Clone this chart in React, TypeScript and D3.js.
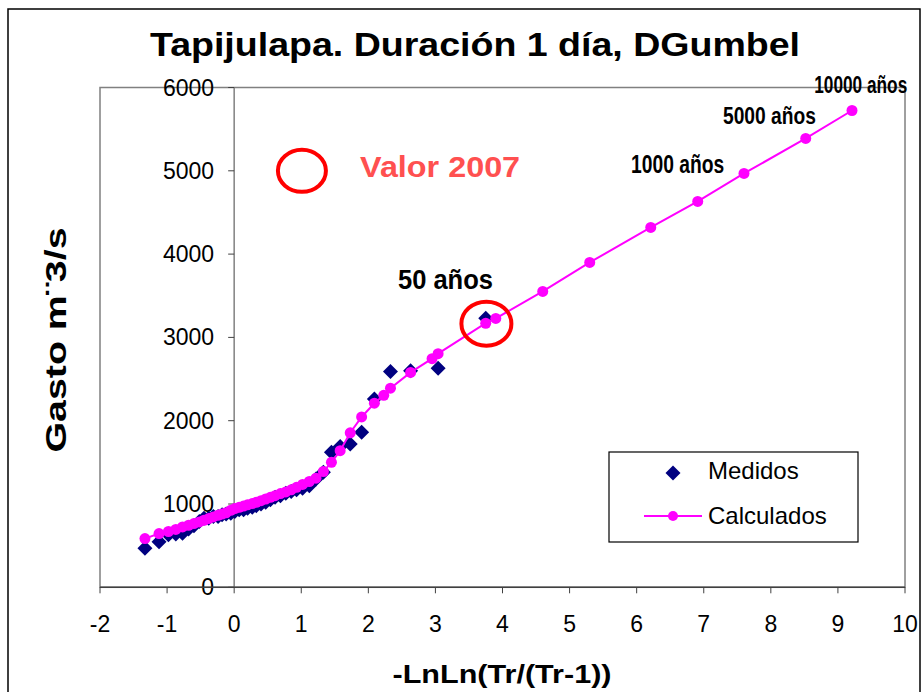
import * as d3 from "d3";

// Medidos: reduced variate vs measured discharge
const medidosX = [
  -1.33, -1.12, -0.98, -0.87, -0.77, -0.68, -0.6, -0.52, -0.45, -0.38, -0.31,
  -0.24, -0.18, -0.12, -0.05, 0.01, 0.075, 0.14, 0.2, 0.27, 0.33, 0.4, 0.47,
  0.54, 0.61, 0.69, 0.77, 0.85, 0.93, 1.02, 1.12, 1.22, 1.33, 1.45, 1.58, 1.73,
  1.9, 2.09, 2.33, 2.63, 3.04, 3.75,
];
const medidosY = [
  468, 548, 630, 640, 650, 700, 740, 790, 830, 830, 850, 850, 870, 880, 890,
  910, 930, 930, 950, 960, 980, 1000, 1020, 1050, 1080, 1100, 1130, 1150, 1170,
  1190, 1220, 1300, 1380, 1620, 1690, 1720, 1860, 2260, 2590, 2600, 2630, 3230,
];

// Calculados (sample positions + return periods up to 10000 años)
const calcX = [
  -1.33, -1.12, -0.98, -0.87, -0.77, -0.68, -0.6, -0.52, -0.45, -0.38, -0.31,
  -0.24, -0.18, -0.12, -0.05, 0.01, 0.075, 0.14, 0.2, 0.27, 0.33, 0.4, 0.47,
  0.54, 0.61, 0.69, 0.77, 0.85, 0.93, 1.02, 1.12, 1.22, 1.33, 1.45, 1.58, 1.73,
  1.9, 2.09, 2.23, 2.33, 2.63, 2.95, 3.04, 3.75, 3.9, 4.6, 5.3, 6.21, 6.91, 7.6,
  8.52, 9.21,
];
const calcY = [
  585, 645, 670, 695, 725, 745, 765, 785, 805, 825, 845, 865, 880, 895, 925, 945,
  960, 975, 990, 1005, 1020, 1040, 1060, 1080, 1100, 1125, 1145, 1170, 1200,
  1235, 1270, 1310, 1390, 1500, 1640, 1855, 2045, 2210, 2305, 2390, 2580, 2745,
  2805, 3170, 3228, 3552, 3900, 4320, 4632, 4968, 5388, 5724,
];

const xTicks = [-2, -1, 0, 1, 2, 3, 4, 5, 6, 7, 8, 9, 10];
const yTicks = [0, 1000, 2000, 3000, 4000, 5000, 6000];

const periodLabels = ["50 años", "1000 años", "5000 años", "10000 años"];
const periodLabelX = [3.15, 6.61, 7.98, 9.34];
const periodLabelY = [3580, 4974, 5564, 5937];

const font = "'Liberation Sans', Arial, sans-serif";
const narrow = "'Liberation Sans Narrow', 'Liberation Sans', Arial, sans-serif";

export default function App() {
  const W = 923;
  const H = 692;
  const left = 100, right = 905, top = 87.5, bottom = 587.3;

  const x = d3.scaleLinear().domain([-2, 10]).range([left, right]);
  const y = d3.scaleLinear().domain([0, 6000]).range([bottom, top]);

  const line = d3
    .line<number>()
    .x((_, i) => x(calcX[i]))
    .y((_, i) => y(calcY[i]));

  const diamond = (cx: number, cy: number, r: number) =>
    `M${cx},${cy - r}L${cx + r},${cy}L${cx},${cy + r}L${cx - r},${cy}Z`;

  // legend box
  const lg = { x: 609, y: 452, w: 249, h: 90 };

  const labelW = [95, 93, 93, 93];
  const labelSize = [28, 25, 24, 23];

  return (
    <svg
      width={W}
      height={H}
      style={{ position: "absolute", left: 0, top: 0, background: "#fff" }}
    >
      <rect x={8} y={9} width={912} height={700} fill="#fff" stroke="#000" strokeWidth={1.5} />

      <text
        x={475}
        y={56}
        textAnchor="middle"
        fontFamily={font}
        fontWeight="bold"
        fontSize={33}
        textLength={650}
        lengthAdjust="spacingAndGlyphs"
      >
        Tapijulapa. Duración 1 día, DGumbel
      </text>

      {/* plot area */}
      <rect x={left} y={top} width={right - left} height={bottom - top} fill="#fff" stroke="#808080" strokeWidth={1.5} />

      {/* y axis at x = 0 */}
      <line x1={x(0)} x2={x(0)} y1={top} y2={bottom} stroke="#808080" strokeWidth={1.5} />
      {yTicks.map((t) => (
        <g key={"y" + t}>
          <line x1={x(0) - 6} x2={x(0)} y1={y(t)} y2={y(t)} stroke="#404040" strokeWidth={1} />
          <text
            x={x(0) - 20}
            y={y(t)}
            dy="0.35em"
            textAnchor="end"
            fontFamily={font}
            fontSize={23}
          >
            {t}
          </text>
        </g>
      ))}

      {/* x axis */}
      <line x1={left} x2={right} y1={bottom} y2={bottom} stroke="#404040" strokeWidth={1.5} />
      {xTicks.map((t) => (
        <g key={"x" + t}>
          <line x1={x(t)} x2={x(t)} y1={bottom} y2={bottom + 6} stroke="#404040" strokeWidth={1} />
          <text x={x(t)} y={632} textAnchor="middle" fontFamily={font} fontSize={23}>
            {t}
          </text>
        </g>
      ))}

      <text
        x={502}
        y={683}
        textAnchor="middle"
        fontFamily={font}
        fontWeight="bold"
        fontSize={25}
        textLength={219}
        lengthAdjust="spacingAndGlyphs"
      >
        -LnLn(Tr/(Tr-1))
      </text>
      <text
        transform="translate(66,340) rotate(-90)"
        textAnchor="middle"
        fontFamily={font}
        fontWeight="bold"
        fontSize={29}
        textLength={225}
        lengthAdjust="spacingAndGlyphs"
      >
        Gasto m¨3/s
      </text>

      {/* Medidos */}
      {medidosX.map((v, i) => (
        <path key={"m" + i} d={diamond(x(v), y(medidosY[i]), 7.5)} fill="#000080" />
      ))}

      {/* Calculados */}
      <path d={line(calcX) ?? ""} fill="none" stroke="#FF00FF" strokeWidth={2} />
      {calcX.map((v, i) => (
        <circle key={"c" + i} cx={x(v)} cy={y(calcY[i])} r={5.5} fill="#FF00FF" />
      ))}

      {/* annotations */}
      <ellipse cx={x(1.01)} cy={y(5000)} rx={24} ry={21} fill="none" stroke="#FF0000" strokeWidth={4} />
      <ellipse cx={x(3.76)} cy={y(3165)} rx={25} ry={22} fill="none" stroke="#FF0000" strokeWidth={4} />
      <text
        x={x(3.07)}
        y={y(4927)}
        textAnchor="middle"
        fontFamily={font}
        fontWeight="bold"
        fontSize={30}
        fill="#FF5050"
        textLength={160}
        lengthAdjust="spacingAndGlyphs"
      >
        Valor 2007
      </text>
      {periodLabels.map((s, i) => (
        <text
          key={s}
          x={x(periodLabelX[i])}
          y={y(periodLabelY[i])}
          textAnchor="middle"
          fontFamily={narrow}
          fontWeight="bold"
          fontSize={labelSize[i]}
          textLength={labelW[i]}
          lengthAdjust="spacingAndGlyphs"
        >
          {s}
        </text>
      ))}

      {/* legend */}
      <rect x={lg.x} y={lg.y} width={lg.w} height={lg.h} fill="#fff" stroke="#000" strokeWidth={1.2} />
      <path d={diamond(673, 473, 7.5)} fill="#000080" />
      <text x={708} y={479} fontFamily={font} fontSize={24}>
        Medidos
      </text>
      <line x1={644} x2={702} y1={516} y2={516} stroke="#FF00FF" strokeWidth={2} />
      <circle cx={673} cy={516} r={5} fill="#FF00FF" />
      <text x={708} y={524} fontFamily={font} fontSize={24}>
        Calculados
      </text>
    </svg>
  );
}
